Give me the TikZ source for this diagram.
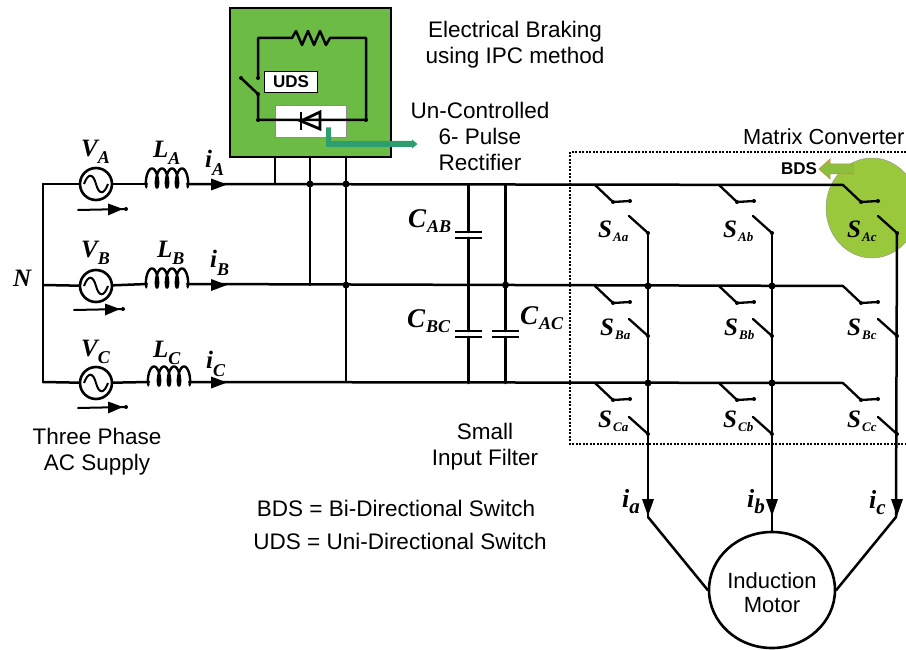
\documentclass[tikz,border=0pt]{standalone}
\usepackage{fontspec}
\setmainfont{Liberation Sans}
\newfontfamily\mathlab{Liberation Serif}
\usetikzlibrary{arrows.meta,shapes.geometric}
\definecolor{boxgreen}{HTML}{6CBB45}
\definecolor{circgreen}{HTML}{9AC83C}
\definecolor{arrowteal}{HTML}{2F9E6E}
\definecolor{arrowgreen}{HTML}{8DBF3E}
% letter, subscript, letter size, subscript size, drop, kern
\newcommand{\labx}[6]{{\fontsize{#3}{#3}\selectfont\mathlab\bfseries\itshape #1\kern#6pt\lower#5pt\hbox{\fontsize{#4}{#4}\selectfont\mathlab\bfseries\itshape #2}}}
\newcommand{\lab}[2]{\labx{#1}{#2}{25}{18}{7}{0}}
\newcommand{\labc}[2]{\labx{#1}{#2}{27}{18}{5}{1}}
\newcommand{\labs}[2]{\labx{#1}{#2}{25}{13}{4}{1}}
\tikzset{
  x=1pt,y=-1pt,
  wire/.style={line width=2.5pt,line cap=round,line join=round},
  thin wire/.style={line width=2.3pt,line cap=round,line join=round},
  jdot/.style={circle,fill=black,inner sep=0pt,minimum size=7pt},
  tdot/.style={circle,fill=black,inner sep=0pt,minimum size=4pt},
  txt/.style={font=\fontsize{22.5}{26}\selectfont,align=center,inner sep=0pt},
  mlabel/.style={inner sep=0pt,anchor=base west},
  sourcec/.style={circle,draw=black,line width=2.6pt,minimum size=32pt,inner sep=0pt},
  motor/.style={ellipse,draw=black,line width=2.6pt,fill=white,minimum width=126pt,minimum height=116pt,inner sep=0pt},
}
\newcommand{\src}[2]{%
  \node[sourcec] (#1) at (96,#2) {};
  \draw[line width=2pt] (84,#2) .. controls (88,#2-11) and (93,#2-11) .. (96,#2) .. controls (99,#2+11) and (104,#2+11) .. (108,#2);
}
\newcommand{\coil}[3]{%
  \coordinate (#1w) at (#2,#3); \coordinate (#1e) at (#2+40,#3);
  \draw[line width=2.4pt] plot[domain=0:1440,samples=193,smooth] ({#2+\x/36-3.2*sin(\x)},{#3-6+9.5*cos(\x)});
}
\newcommand{\swi}[5]{%
  \draw[thin wire] (#1,#2) -- (#1+18,#2+17) -- (#1+35,#2+16);
  \node[tdot] at (#1+35,#2+16) {};
  \node[tdot] at (#1+18,#2+17) {};
  \draw[thin wire] (#3-19,#4) -- (#3,#5);
  \node[tdot] at (#3,#5) {};
}
\begin{document}
\begin{tikzpicture}
\useasboundingbox (0,0) rectangle (906,650);
\fill[white] (0,0) rectangle (906,650);

% green ellipse
\fill[circgreen,draw=black!40,line width=.5pt] (872,208) ellipse [x radius=46,y radius=50];

% dotted box
\draw[line width=1.2pt,dash pattern=on 2pt off 1.5pt] (906,152) -- (570,152) -- (570,444) -- (906,444);

% braking box
\node[draw=black,line width=2.6pt,fill=boxgreen,minimum width=161pt,minimum height=149pt,inner sep=0pt] (brake) at (310.5,82.5) {};
\node[draw=black!45,line width=.6pt,fill=white,minimum width=71pt,minimum height=32pt,inner sep=0pt] (rectbox) at (310.5,121) {};

\coordinate (tl) at (258,38);
\coordinate (tr) at (366,38);
\coordinate (br) at (366,120);
\coordinate (bl) at (258,120);
\coordinate (r1) at (292,38);
\coordinate (r2) at (330,38);
\draw[wire] (258,78) -- (tl) -- (r1) -- (296,31) -- (302,45) -- (308,31) -- (314,45) -- (320,31) -- (326,45) -- (r2) -- (tr) -- (br) -- (bl) -- (258,94) -- (241,78);
\node[tdot] at (241,78) {};
\node[tdot] at (258,78) {};
\node[tdot] at (258,94) {};
\node[tdot] at (366,120) {};
\node[tdot] at (258,120) {};
% diode
\draw[line width=2.8pt] (301,112) -- (301,130);
\draw[line width=2.8pt,line join=miter] (301,121) -- (320,112) -- (320,129) -- cycle;
\node[draw=black,line width=1.8pt,fill=white,minimum width=53pt,minimum height=21pt,inner sep=0pt,font=\fontsize{17}{18}\selectfont\bfseries] (uds) at (291,82) {UDS};
% teal arrow
\fill[arrowteal] (326,127.5) -- (331,127.5) -- (331,141) -- (412,141) -- (412,139.5) -- (417.5,144) -- (412,148.5) -- (412,147) -- (326,147) -- cycle;

% bus lines
\coordinate (nA) at (43,184);
\coordinate (nB) at (43,285);
\coordinate (nC) at (43,382);
\coordinate (tA) at (843,185);
\coordinate (tB) at (843,286);
\coordinate (tC) at (843,383);
\draw[wire] (nA) -- (nC);
\src{sA}{184}\src{sB}{286}\src{sC}{383}
\coil{cA}{147}{184}
\coil{cB}{147}{284}
\coil{cC}{149}{382}
\draw[wire] (nA) -- (sA);
\draw[wire] (nB) -- (sB);
\draw[wire] (nC) -- (sC);
\draw[wire] (sA) -- (cAw);
\draw[wire] (sB) -- (cBw);
\draw[wire] (sC) -- (cCw);
\draw[wire] (cAe) -- (tA);
\draw[wire] (cBe) -- (tB);
\draw[wire] (cCe) -- (tC);
\foreach \y in {184.5,285,382.5}{\fill (211,\y-6) -- (227,\y) -- (211,\y+6) -- cycle;}

% source voltage arrows
\foreach \xa/\xb/\xd/\y in {78/122/126/210,74/119/123/310,78/122/126/408}{
  \draw[line width=2pt,line cap=round] (\xa,\y) -- (\xd,\y-1);
  \fill (\xb-14,\y-6.5) -- (\xb+1,\y-1) -- (\xb-14,\y+5.5) -- cycle;
  \node[tdot] at (\xd,\y-1) {};
}

% rectifier legs
\coordinate (l1) at (275,184);
\coordinate (l2a) at (310,184);
\coordinate (l2b) at (310,285);
\coordinate (l3a) at (346,184);
\coordinate (l3b) at (346,382);
\draw[wire] (275,157) -- (l1);
\draw[wire] (310,157) -- (l2b);
\draw[wire] (346,157) -- (l3b);
\foreach \p in {l2a,l3a}{\node[jdot] at (\p) {};}
\node[jdot] at (346,285) {};
\node[jdot] at (505.5,285) {};

% capacitors
\newcommand{\capa}[2]{%
  \draw[line width=2.4pt] (#1-13.5,#2) -- (#1+13.5,#2);
  \draw[line width=2.4pt] (#1-13.5,#2+6) -- (#1+13.5,#2+6);
}
\draw[wire] (468.5,185) -- (468.5,232);
\draw[wire] (468.5,238) -- (468.5,331);
\draw[wire] (468.5,337) -- (468.5,383);
\draw[wire] (505.5,185) -- (505.5,331);
\draw[wire] (505.5,337) -- (505.5,383);
\capa{468.5}{232}
\capa{468.5}{331}
\capa{505.5}{331}

% switches
\foreach \s/\c in {595/648,719/772,843/897}{
  \swi{\s}{185}{\c}{216}{233}
  \swi{\s}{286}{\c}{319}{336}
  \swi{\s}{383}{\c}{417}{434}
}
% columns and motor
\node[motor] (mot) at (772,590) {};
\node[inner sep=0pt,align=center,font=\fontsize{22}{24.5}\selectfont] (motlabel) at (772,592.5) {Induction\\Motor};
\coordinate (ca) at (648,517);
\coordinate (cb) at (772,517);
\coordinate (cc) at (896,517);
\draw[wire] (648,233) -- (ca);
\draw[wire] (772,233) -- (cb);
\draw[wire] (897,233) -- (cc);
\foreach \c in {648,772,897}{\fill (\c-6,499) -- (\c+6,499) -- (\c,516) -- cycle;}
\draw[wire] (ca) -- (mot.west);
\draw[wire] (cb) -- (mot.north);
\draw[wire] (cc) -- (mot.east);
\foreach \x in {648,772}{\foreach \y in {286,383}{\node[jdot] at (\x,\y) {};}}

% BDS arrow
\fill[arrowgreen,draw=brown!70!orange,line width=.5pt] (853,164) -- (830,164) -- (830,159) -- (819,169) -- (830,179) -- (830,174) -- (853,174) -- cycle;
\node[inner sep=0pt,font=\fontsize{17}{18}\selectfont\bfseries] (bdsl) at (799,169) {BDS};

% texts
\node[txt] (t1) at (515,44.5) {Electrical Braking\\using IPC method};
\node[txt] (t2) at (480,136) {Un-Controlled\\6- Pulse\\Rectifier};
\node[txt,anchor=west,font=\fontsize{21.8}{26}\selectfont] (t3) at (743,137) {Matrix Converter};
\node[txt] (t4) at (97,451.5) {Three Phase\\AC Supply};
\node[txt] (t5) at (485,446.5) {Small\\Input Filter};
\node[txt] (t6) at (396,508) {BDS = Bi-Directional Switch};
\node[txt] (t7) at (400,541) {UDS = Uni-Directional Switch};

% labels
\node[mlabel] (vA) at (81,157) {\lab{V}{A}};
\node[mlabel] (vB) at (81,258) {\lab{V}{B}};
\node[mlabel] (vC) at (81,356) {\lab{V}{C}};
\node[mlabel] (LA) at (153,158) {\lab{L}{A}};
\node[mlabel] (LB) at (157,258) {\lab{L}{B}};
\node[mlabel] (LC) at (153,357) {\lab{L}{C}};
\node[mlabel] (iA) at (205,168) {\labx{i}{A}{25}{18}{8}{0}};
\node[mlabel] (iB) at (210,268) {\labx{i}{B}{25}{18}{8}{0}};
\node[mlabel] (iC) at (206,368) {\labx{i}{C}{25}{18}{8}{0}};
\node[mlabel] (N) at (13,287) {\labx{N}{}{25}{18}{0}{0}};
\node[mlabel] (CAB) at (408,228) {\labc{C}{AB}};
\node[mlabel] (CBC) at (407,327) {\labc{C}{BC}};
\node[mlabel] (CAC) at (520,324) {\labc{C}{AC}};
\foreach \x/\y/\a/\n in {
 598/237/Aa/sAa, 723/237/Ab/sAb, 847/237/Ac/sAc,
 600/335/Ba/sBa, 724/335/Bb/sBb, 847/335/Bc/sBc,
 598/427/Ca/sCa, 723/427/Cb/sCb, 847/427/Cc/sCc}{
  \node[mlabel] (\n) at (\x,\y) {\labs{S}{\a}};
}
\node[mlabel] (ia) at (622,507) {\labx{i}{a}{26}{21}{6}{0}};
\node[mlabel] (ib) at (747,507) {\labx{i}{b}{26}{21}{6}{0}};
\node[mlabel] (ic) at (869,508) {\labx{i}{c}{26}{21}{6}{0}};
\end{tikzpicture}
\end{document}
